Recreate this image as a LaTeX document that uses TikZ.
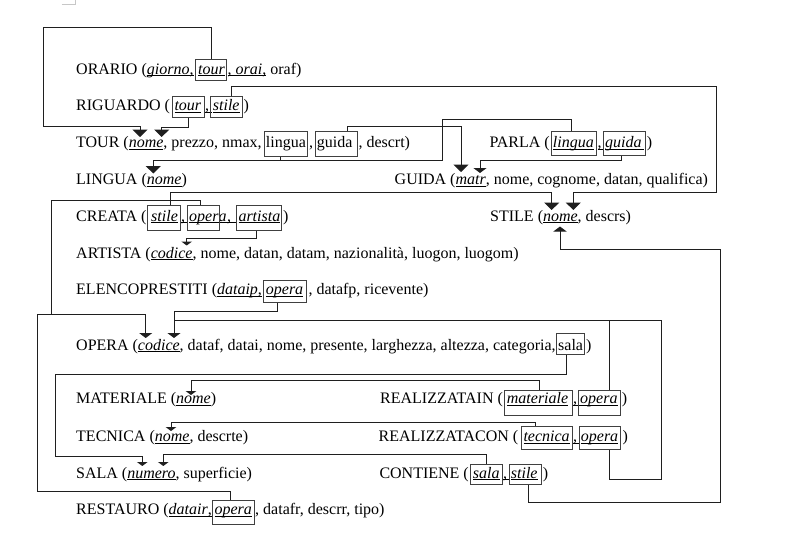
\documentclass[tikz,border=0pt]{standalone}
\usepackage{fontspec}
\setmainfont{Liberation Serif}
\usetikzlibrary{arrows.meta,fit}
% underline set at a fixed depth below the baseline, crossing descenders
\newcommand{\kul}[1]{\leavevmode\setbox0\hbox{#1}\rlap{\rule[-2pt]{\wd0}{0.9pt}}\box0\relax}
\begin{document}
\begin{tikzpicture}[x=1pt,y=-1pt,
  font=\fontsize{16}{19}\selectfont,
  txt/.style={anchor=base west,inner sep=0pt},
  keybox/.style={draw=black!75,line width=1pt,inner sep=0pt},
  link/.style={draw=black!88,line width=1pt},
  bigtip/.style={-{Triangle[width=15pt,length=7.5pt]}},
  midtip/.style={-{Triangle[width=13pt,length=5pt]}},
  smalltip/.style={-{Triangle[width=10.5pt,length=4pt]}},
]
\useasboundingbox (0,0) rectangle (796,546);

% page corner mark
\draw[black!22,line width=0.8pt] (61.7,4) -- (75.7,4) -- (75.7,0);

% ---------- relations ----------
% ORARIO
\node[txt] (orario) at (76,74) {ORARIO (\kul{\textit{giorno},}};
\node[txt] (orario-tour-w) at (198,74) {\kul{\textit{tour}}};
\node[keybox,fit={(195.7,59.3) (226.7,80.7)}] (orario-tour) {};
\node[txt] (orario-end) at (227.5,74) {\kul{, \textit{orai},} oraf)};

% RIGUARDO
\node[txt] (riguardo) at (76,110.5) {RIGUARDO (};
\node[txt] (riguardo-tour-w) at (174.3,110.5) {\kul{\textit{tour}}};
\node[keybox,fit={(172.7,96.7) (204,117.7)}] (riguardo-tour) {};
\node[txt] (riguardo-c) at (205,110.5) {\kul{,\,}};
\node[txt] (riguardo-stile-w) at (212.7,110.5) {\kul{\textit{stile}}};
\node[keybox,fit={(210.3,96.7) (242,117.7)}] (riguardo-stile) {};
\node[txt] (riguardo-end) at (243.3,110.5) {)};

% TOUR
\node[txt] (tour) at (76,147.5) {TOUR (\kul{\textit{nome}}, prezzo, nmax,};
\node[txt] (tour-lingua-w) at (265.7,147.5) {lingua};
\node[keybox,fit={(264,131.7) (307.3,156)}] (tour-lingua) {};
\node[txt] (tour-c) at (309,147.5) {,};
\node[txt] (tour-guida-w) at (316.7,147.5) {guida};
\node[keybox,fit={(315,131.7) (357.3,156)}] (tour-guida) {};
\node[txt] (tour-end) at (358.3,147.5) {, descrt)};

% PARLA
\node[txt] (parla) at (489.3,147.5) {PARLA (};
\node[txt] (parla-lingua-w) at (552.7,147.5) {\kul{\textit{lingua}}};
\node[keybox,fit={(551,131.7) (596.7,155)}] (parla-lingua) {};
\node[txt] (parla-c) at (597.5,147.5) {\kul{,\,}};
\node[txt] (parla-guida-w) at (605,147.5) {\kul{\textit{guida}\,}};
\node[keybox,fit={(603.3,131.7) (645,155)}] (parla-guida) {};
\node[txt] (parla-end) at (646.7,147.5) {)};

% LINGUA, GUIDA
\node[txt] (lingua) at (76,184.5) {LINGUA (\kul{\textit{nome}})};
\node[txt] (guida) at (394.5,184.5) {GUIDA (\kul{\textit{matr}}, nome, cognome, datan, qualifica)};

% CREATA
\node[txt] (creata) at (76,221) {CREATA (};
\node[txt] (creata-stile-w) at (151,221) {\kul{\textit{stile}}};
\node[keybox,fit={(147.5,205.7) (180,230.7)}] (creata-stile) {};
\node[txt] (creata-c1) at (181,221) {\kul{,\,}};
\node[txt] (creata-opera-w) at (189,221) {\kul{\textit{opera}}};
\node[keybox,fit={(187.7,205.7) (219.3,230.7)}] (creata-opera) {};
\node[txt] (creata-c2) at (227,221) {\kul{,\hspace{6pt}}};
\node[txt] (creata-artista-w) at (238.3,221) {\kul{\textit{artista}}};
\node[keybox,fit={(236.7,205.7) (281.7,230.7)}] (creata-artista) {};
\node[txt] (creata-end) at (283,221) {)};

% STILE
\node[txt] (stile) at (490,221) {STILE (\kul{\textit{nome}}, descrs)};

% ARTISTA
\node[txt] (artista) at (76,258) {ARTISTA (\kul{\textit{codice}}, nome, datan, datam, nazionalità, luogon, luogom)};

% ELENCOPRESTITI
\node[txt] (elenco) at (76,294.5) {ELENCOPRESTITI (\kul{\textit{dataip},}};
\node[txt] (elenco-opera-w) at (265.7,294.5) {\kul{\textit{opera}}};
\node[keybox,fit={(263.3,280) (306.7,302.3)}] (elenco-opera) {};
\node[txt] (elenco-end) at (308.3,294.5) {, datafp, ricevente)};

% OPERA
\node[txt] (opera) at (76,350) {OPERA (\kul{\textit{codice}}, dataf, datai, nome, presente, larghezza, altezza, categoria,};
\node[txt] (opera-sala-w) at (558,350) {sala};
\node[keybox,fit={(556,333.3) (584,354.3)}] (opera-sala) {};
\node[txt] (opera-end) at (586,350) {)};

% MATERIALE, REALIZZATAIN
\node[txt] (materiale) at (76,403.5) {MATERIALE (\kul{\textit{nome}})};
\node[txt] (realin) at (380,403.5) {REALIZZATAIN (};
\node[txt] (realin-materiale-w) at (506.7,403.5) {\kul{\textit{materiale}}};
\node[keybox,fit={(504.3,390) (572.3,415.7)}] (realin-materiale) {};
\node[txt] (realin-c) at (573,403.5) {\kul{,\,}};
\node[txt] (realin-opera-w) at (580,403.5) {\kul{\textit{opera}}};
\node[keybox,fit={(578.3,390) (620.7,415.7)}] (realin-opera) {};
\node[txt] (realin-end) at (621.7,403.5) {)};

% TECNICA, REALIZZATACON
\node[txt] (tecnica) at (76,441.5) {TECNICA (\kul{\textit{nome}}, descrte)};
\node[txt] (realcon) at (378.5,441.5) {REALIZZATACON (};
\node[txt] (realcon-tecnica-w) at (523.3,441.5) {\kul{\textit{tecnica}}};
\node[keybox,fit={(521,426) (572.3,449.3)}] (realcon-tecnica) {};
\node[txt] (realcon-c) at (573,441.5) {\kul{,\,}};
\node[txt] (realcon-opera-w) at (580.7,441.5) {\kul{\textit{opera}}};
\node[keybox,fit={(579,426) (620.7,449.3)}] (realcon-opera) {};
\node[txt] (realcon-end) at (622.3,441.5) {)};

% SALA, CONTIENE
\node[txt] (sala) at (76,478) {SALA (\kul{\textit{numero}}, superficie)};
\node[txt] (contiene) at (379.3,478) {CONTIENE (};
\node[txt] (contiene-sala-w) at (472.7,478) {\kul{\textit{sala}}};
\node[keybox,fit={(470.7,464.3) (502.3,484)}] (contiene-sala) {};
\node[txt] (contiene-c) at (503,478) {\kul{,\,}};
\node[txt] (contiene-stile-w) at (510.7,478) {\kul{\textit{stile}}};
\node[keybox,fit={(509.3,464.3) (541,484)}] (contiene-stile) {};
\node[txt] (contiene-end) at (542.7,478) {)};

% RESTAURO
\node[txt] (restauro) at (76,514.5) {RESTAURO (\kul{\textit{datair},}};
\node[txt] (restauro-opera-w) at (214.3,514.5) {\kul{\textit{opera}}};
\node[keybox,fit={(212.7,500) (254,524.3)}] (restauro-opera) {};
\node[txt] (restauro-end) at (255,514.5) {, datafr, descrr, tipo)};

% ---------- arrow targets above the primary keys ----------
\coordinate (tour-pk1) at (140,137);
\coordinate (tour-pk2) at (161.7,137);
\coordinate (lingua-pk) at (153.3,173.5);
\coordinate (guida-pk1) at (461,172);
\coordinate (guida-pk2) at (480,173);
\coordinate (stile-pk1) at (551.7,210);
\coordinate (stile-pk2) at (573.3,210);
\coordinate (stile-pk3) at (560,226.5);
\coordinate (artista-pk) at (186.7,245.5);
\coordinate (opera-pk1) at (145.7,338);
\coordinate (opera-pk2) at (174,338);
\coordinate (materiale-pk) at (191,395);
\coordinate (tecnica-pk) at (171,431);
\coordinate (sala-pk1) at (142.3,466);
\coordinate (sala-pk2) at (163.3,466);

% ---------- foreign key references ----------
% ORARIO.tour -> TOUR
\draw[link,bigtip] (orario-tour.north) |- (43.3,27.3) |- (140,126.3) -- (tour-pk1);
% RIGUARDO.tour -> TOUR
\draw[link,bigtip] (riguardo-tour.south) |- (161.7,127.3) -- (tour-pk2);
% RIGUARDO.stile -> STILE
\draw[link,bigtip] ([xshift=5.5pt]riguardo-stile.north) |- (716.7,86.3) |- (573.3,192) -- (stile-pk2);
% TOUR.lingua -> LINGUA
\draw[link,bigtip] ([xshift=-5.65pt]tour-lingua.south) |- (153.3,160.7) -- (lingua-pk);
% PARLA.lingua -> LINGUA (joins the line above)
\draw[link] ([xshift=-2.85pt]parla-lingua.north) |- (442.7,119.3) |- (280,160.7);
% TOUR.guida -> GUIDA
\draw[link,bigtip] ([xshift=11.55pt]tour-guida.north) |- (461,126) -- (guida-pk1);
% PARLA.guida -> GUIDA
\draw[link,midtip] ([xshift=-3.15pt]parla-guida.south) |- (480,160.7) -- (guida-pk2);
% CREATA.stile -> STILE
\draw[link,bigtip] ([xshift=6.25pt]creata-stile.north) |- (551.7,192.3) -- (stile-pk1);
% CREATA.opera -> OPERA
\draw[link,midtip] ([xshift=-3.5pt]creata-opera.north) |- (51.7,200) |- (145.7,314) -- (opera-pk1);
% CREATA.artista -> ARTISTA
\draw[link,smalltip] ([xshift=-2.5pt]creata-artista.south) |- (186.7,238.3) -- (artista-pk);
% ELENCOPRESTITI.opera -> OPERA
\draw[link,midtip] ([xshift=-7.3pt]elenco-opera.south) |- (174,311) -- (opera-pk2);
% RESTAURO.opera -> OPERA (joins the CREATA line)
\draw[link] ([xshift=-3.35pt]restauro-opera.north) |- (37.3,491.7) |- (51.7,314);
% OPERA.sala -> SALA
\draw[link,smalltip] ([xshift=-3.3pt]opera-sala.south) |- (55,374) |- (142.3,456.7) -- (sala-pk1);
% REALIZZATAIN.materiale -> MATERIALE
\draw[link,smalltip] ([xshift=1pt]realin-materiale.north) |- (191,380) -- (materiale-pk);
% REALIZZATAIN.opera -> OPERA (joins the ELENCOPRESTITI line)
\draw[link] ([xshift=9.5pt]realin-opera.north) |- (174,320.7);
% REALIZZATACON.tecnica -> TECNICA
\draw[link,smalltip] ([xshift=-10.95pt]realcon-tecnica.north) |- (171,422.7) -- (tecnica-pk);
% REALIZZATACON.opera -> OPERA (joins the REALIZZATAIN line)
\draw[link] ([xshift=9.45pt]realcon-opera.south) |- (661,479) |- (609,320.7);
% CONTIENE.sala -> SALA
\draw[link,smalltip] (contiene-sala.north) |- (163.3,454.3) -- (sala-pk2);
% CONTIENE.stile -> STILE
\draw[link,midtip] ([xshift=3.15pt]contiene-stile.south) |- (720.7,502.7) |- (560,249.3) -- (stile-pk3);
\end{tikzpicture}
\end{document}
